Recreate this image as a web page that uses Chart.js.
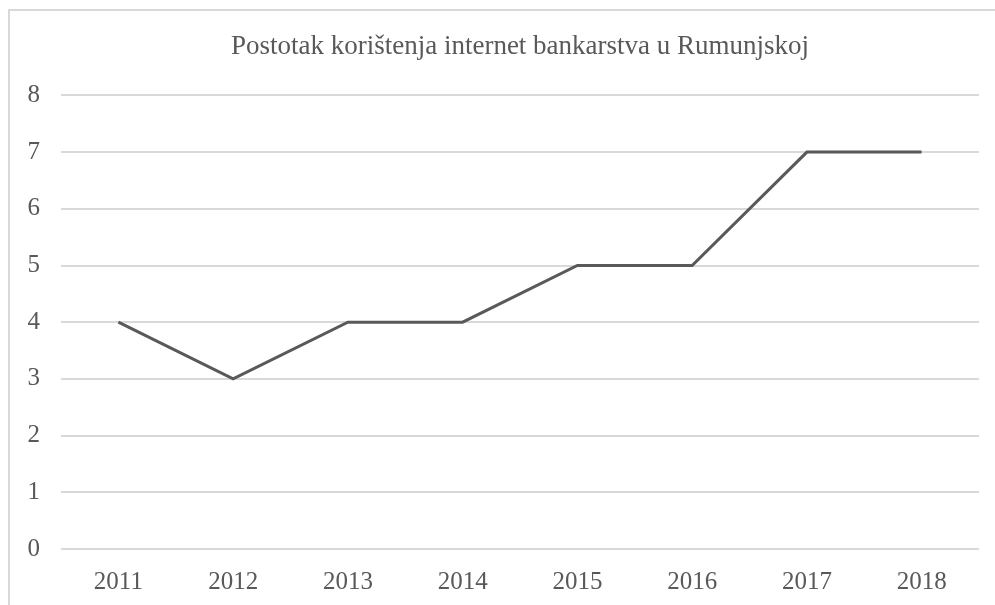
<!DOCTYPE html>
<html>
<head>
<meta charset="utf-8">
<script src="https://cdn.jsdelivr.net/npm/chart.js@4.4.1/dist/chart.umd.min.js"></script>
<style>
  html, body { margin: 0; padding: 0; background: #fff; }
  #wrap { position: relative; width: 995px; height: 605px; }
  #frame { position: absolute; left: 8px; top: 9px; right: -10px; bottom: -10px;
           border-left: 2px solid #d9d9d9; border-top: 2px solid #d9d9d9; pointer-events: none; }
</style>
</head>
<body>
<div id="wrap">
  <canvas id="chart" width="995" height="605"></canvas>
  <div id="frame"></div>
</div>
<script>
const years = ['2011', '2012', '2013', '2014', '2015', '2016', '2017', '2018'];
const usage = [4, 3, 4, 4, 5, 5, 7, 7];
const titleText = 'Postotak korištenja internet bankarstva u Rumunjskoj';

const textColor = '#595959';
const serif = "'Liberation Serif', 'Times New Roman', serif";

let ctx = document.getElementById('chart');

let chart = new Chart(ctx, {
  type: 'line',
  data: {
    labels: years,
    datasets: [{
      label: 'Postotak',
      data: usage,
      borderColor: '#595959',
      borderWidth: 3,
      pointRadius: 0,
      tension: 0,
      fill: false,
    }]
  },
  options: {
    responsive: false,
    animation: false,
    layout: { padding: { left: 0, right: 16, top: 0, bottom: 0 } },
    plugins: {
      legend: { display: false },
      tooltip: { enabled: false },
      title: {
        display: true,
        text: titleText,
        fullSize: false,
        color: textColor,
        font: { family: serif, size: 27, weight: 'normal' },
        padding: { top: 31, bottom: 32 },
      },
    },
    scales: {
      x: {
        offset: true,
        grid: { display: false },
        border: { display: false },
        ticks: { color: textColor, font: { family: serif, size: 25 }, padding: 10, maxRotation: 0 },
        afterFit: (scale) => { scale.height = 56; },
      },
      y: {
        min: 0,
        max: 8,
        grid: { color: '#d9d9d9', lineWidth: 2, drawTicks: false },
        border: { display: false },
        ticks: { stepSize: 1, color: textColor, font: { family: serif, size: 25 }, padding: 21 },
        afterFit: (scale) => { scale.width = 61; },
      },
    },
  },
});
</script>
</body>
</html>
